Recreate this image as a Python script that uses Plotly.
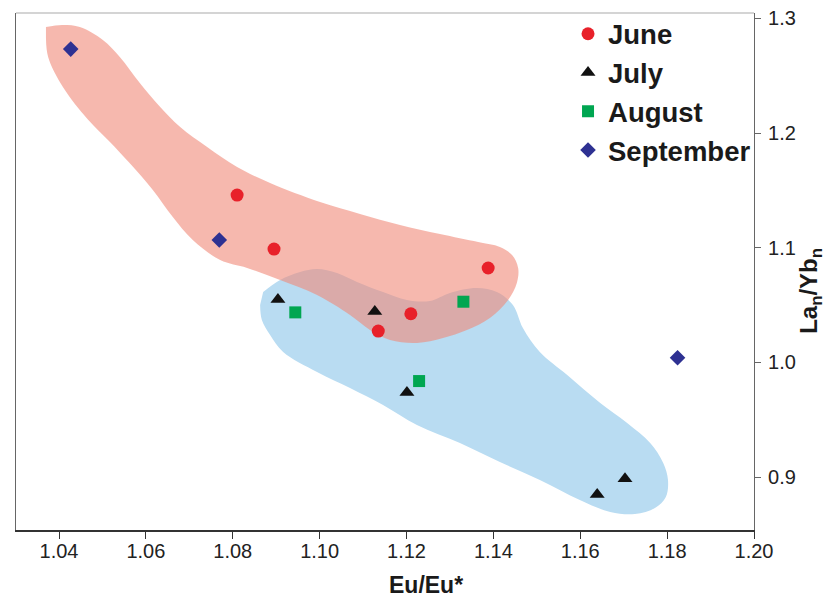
import plotly.graph_objects as go

# ---- data ----
june_x = [1.0810, 1.0895, 1.1388, 1.1210, 1.1135]
june_y = [1.1459, 1.0988, 1.0823, 1.0424, 1.0273]

july_x = [1.0904, 1.1127, 1.1201, 1.1703, 1.1639]
july_y = [1.0548, 1.0443, 0.9737, 0.8985, 0.8847]

aug_x = [1.0944, 1.1331, 1.1229]
aug_y = [1.0436, 1.0529, 0.9837]

sep_x = [1.0427, 1.0769, 1.1824]
sep_y = [1.2732, 1.1067, 1.0040]

# envelope outlines (data units)
red_env_x = [1.0370, 1.0407, 1.0448, 1.0501, 1.0540, 1.0586, 1.0633, 1.0679, 1.0741, 1.0810,
             1.0886, 1.1001, 1.1093, 1.1185, 1.1277, 1.1365, 1.1415, 1.1443, 1.1457, 1.1454,
             1.1434, 1.1392, 1.1339, 1.1284, 1.1224, 1.1162, 1.1116, 1.1070, 1.0994, 1.0909,
             1.0833, 1.0771, 1.0708, 1.0662, 1.0616, 1.0562, 1.0515, 1.0466, 1.0409, 1.0375,
             1.0370]
red_env_y = [1.2924, 1.2942, 1.2924, 1.2811, 1.2663, 1.2436, 1.2227, 1.2052, 1.1878, 1.1703,
             1.1564, 1.1398, 1.1294, 1.1198, 1.1119, 1.1049, 1.1006, 1.0936, 1.0823, 1.0692,
             1.0544, 1.0387, 1.0282, 1.0212, 1.0169, 1.0195, 1.0282, 1.0413, 1.0587, 1.0718,
             1.0823, 1.0892, 1.1067, 1.1267, 1.1503, 1.1740, 1.1930, 1.2120, 1.2401, 1.2663,
             1.2828]

blue_env_x = [1.0870, 1.0909, 1.0955, 1.0994, 1.1040, 1.1086, 1.1146, 1.1201, 1.1254, 1.1300,
              1.1362, 1.1408, 1.1445, 1.1468, 1.1507, 1.1570, 1.1646, 1.1708, 1.1761, 1.1791,
              1.1802, 1.1797, 1.1772, 1.1726, 1.1669, 1.1599, 1.1507, 1.1415, 1.1323, 1.1224,
              1.1146, 1.1070, 1.0994, 1.0916, 1.0886, 1.0867, 1.0863]
blue_env_y = [1.0613, 1.0718, 1.0788, 1.0814, 1.0779, 1.0701, 1.0613, 1.0544, 1.0535, 1.0605,
              1.0648, 1.0613, 1.0500, 1.0299, 1.0090, 0.9889, 0.9645, 0.9471, 0.9296, 0.9122,
              0.8974, 0.8826, 0.8730, 0.8677, 0.8695, 0.8799, 0.8974, 0.9131, 0.9296, 0.9453,
              0.9628, 0.9776, 0.9916, 1.0090, 1.0238, 1.0369, 1.0500]

x_ticks = [1.04, 1.06, 1.08, 1.10, 1.12, 1.14, 1.16, 1.18, 1.20]
x_tick_text = ["1.04", "1.06", "1.08", "1.10", "1.12", "1.14", "1.16", "1.18", "1.20"]
y_ticks = [0.9, 1.0, 1.1, 1.2, 1.3]
y_tick_text = ["0.9", "1.0", "1.1", "1.2", "1.3"]

FONT = "Liberation Sans, Arial, sans-serif"

fig = go.Figure()

fig.add_trace(go.Scatter(
    x=blue_env_x, y=blue_env_y, mode="lines", fill="toself",
    line=dict(width=0, shape="spline", color="rgba(0,0,0,0)"),
    fillcolor="rgb(185,220,242)", showlegend=False, hoverinfo="skip"))
fig.add_trace(go.Scatter(
    x=red_env_x, y=red_env_y, mode="lines", fill="toself",
    line=dict(width=0, shape="spline", color="rgba(0,0,0,0)"),
    fillcolor="rgba(240,137,120,0.6)", showlegend=False, hoverinfo="skip"))

fig.add_trace(go.Scatter(x=june_x, y=june_y, mode="markers", name="June",
                         marker=dict(symbol="circle", size=13, color="#E8212A")))
fig.add_trace(go.Scatter(x=july_x, y=july_y, mode="markers", name="July",
                         marker=dict(symbol="triangle-up", size=13, color="#111111")))
fig.add_trace(go.Scatter(x=aug_x, y=aug_y, mode="markers", name="August",
                         marker=dict(symbol="square", size=12, color="#00A651")))
fig.add_trace(go.Scatter(x=sep_x, y=sep_y, mode="markers", name="September",
                         marker=dict(symbol="diamond", size=12, color="#2E3192")))

# page body has an 8px margin, so the figure is sized 8px smaller
fig.update_layout(
    width=825, height=596,
    margin=dict(l=8, r=79, t=5, b=74, autoexpand=False),
    paper_bgcolor="white", plot_bgcolor="white",
    font=dict(family=FONT, color="#222222"),
    showlegend=True,
    legend=dict(x=0.748, y=1.007, xanchor="left", yanchor="top",
                bgcolor="rgba(0,0,0,0)", tracegroupgap=0,
                font=dict(family=FONT, size=27.5, color="#1a1a1a", weight="bold")),
    xaxis=dict(range=[1.0301, 1.2000], tickvals=x_ticks, ticktext=x_tick_text,
               showgrid=False, zeroline=False, showline=True, linecolor="#333333",
               linewidth=1.5, ticks="outside", ticklen=7, tickcolor="#333333",
               ticklabelstandoff=-5, automargin=False,
               tickfont=dict(size=20, color="#222222")),
    yaxis=dict(range=[0.8538, 1.3047], tickvals=y_ticks, ticktext=y_tick_text,
               side="right", showgrid=False, zeroline=False, showline=True,
               linecolor="#666666", linewidth=1.2, mirror=True, ticks="outside",
               ticklen=6, tickcolor="#666666", ticklabelstandoff=3, automargin=False,
               ticklabeloverflow="allow",
               tickfont=dict(size=20, color="#222222")),
    shapes=[dict(type="line", xref="paper", yref="paper", x0=0, x1=1, y0=1, y1=1,
                 line=dict(color="#AAAAAA", width=1.2))],
    annotations=[
        dict(text="<b>Eu/Eu*</b>", xref="paper", yref="paper", x=0.5556, y=-0.1064,
             xanchor="center", yanchor="middle", showarrow=False,
             font=dict(family=FONT, size=23, color="#1a1a1a")),
        dict(text="<b>La<sub>n</sub>/Yb<sub>n</sub></b>", xref="paper", yref="paper",
             x=1.0755, y=0.462, xanchor="center", yanchor="middle", textangle=-90,
             showarrow=False, font=dict(family=FONT, size=24, color="#1a1a1a")),
    ],
)

fig.write_html("out.html")
